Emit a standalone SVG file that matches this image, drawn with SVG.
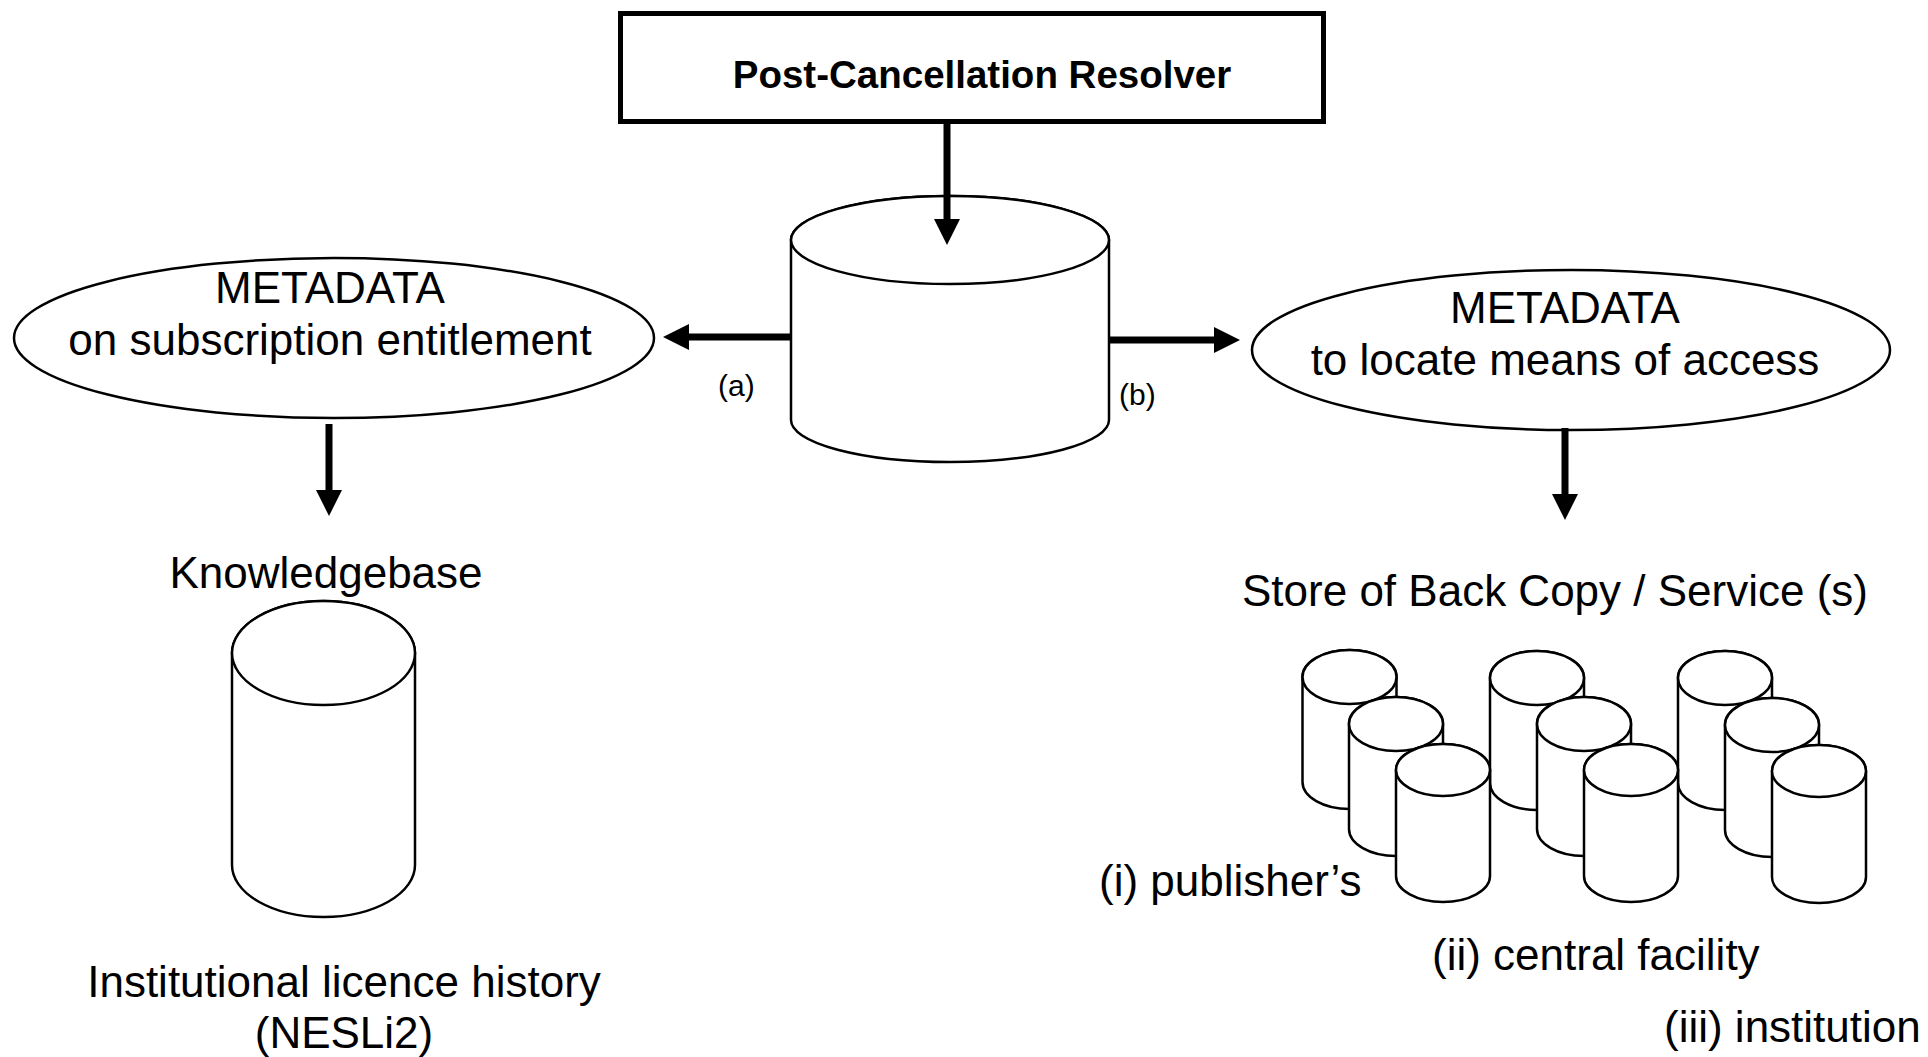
<svg xmlns="http://www.w3.org/2000/svg" width="1928" height="1057" viewBox="0 0 1928 1057">
  <defs>
    <style>
      .lbl { font-family: "Liberation Sans", Arial, sans-serif; font-size: 44px; fill: #000; }
      .ttl { font-family: "Liberation Sans", Arial, sans-serif; font-size: 38.5px; font-weight: bold; fill: #000; }
      .sm { font-family: "Liberation Sans", Arial, sans-serif; font-size: 30px; fill: #000; }
      .shape { fill: #fff; stroke: #000; stroke-width: 2.5; }
      .conn { stroke: #000; stroke-width: 7; fill: none; }
    </style>
    <marker id="ah" markerUnits="userSpaceOnUse" markerWidth="26" markerHeight="26" viewBox="0 0 26 26" refX="1" refY="13" orient="auto">
      <path d="M0,0 L26,13 L0,26 Z" fill="#000"/>
    </marker>
  </defs>

  <rect width="1928" height="1057" fill="#fff"/>

  <g id="resolver">
    <rect x="620.5" y="13.5" width="703" height="108" fill="#fff" stroke="#000" stroke-width="5"/>
    <text class="ttl" x="982" y="88" text-anchor="middle">Post-Cancellation Resolver</text>
  </g>

  <g id="central-db">
    <path class="shape" d="M791,240 L791,420 A159,42 0 0 0 1109,420 L1109,240 A159,44 0 0 0 791,240 Z"/>
    <ellipse class="shape" cx="950" cy="240" rx="159" ry="44"/>
  </g>

  <g id="metadata-entitlement">
    <ellipse class="shape" cx="334" cy="338" rx="320" ry="80" stroke-width="2"/>
    <text class="lbl" x="330" y="303" text-anchor="middle">METADATA</text>
    <text class="lbl" x="330" y="355" text-anchor="middle">on subscription entitlement</text>
  </g>

  <g id="metadata-access">
    <ellipse class="shape" cx="1571" cy="350" rx="319" ry="80" stroke-width="2"/>
    <text class="lbl" x="1565" y="323" text-anchor="middle">METADATA</text>
    <text class="lbl" x="1565" y="375" text-anchor="middle">to locate means of access</text>
  </g>

  <g id="knowledgebase">
    <text class="lbl" x="326" y="588" text-anchor="middle">Knowledgebase</text>
    <path class="shape" d="M232,653 L232,865 A91.5,52 0 0 0 415,865 L415,653 A91.5,52 0 0 0 232,653 Z"/>
    <ellipse class="shape" cx="323.5" cy="653" rx="91.5" ry="52"/>
    <text class="lbl" x="344" y="997" text-anchor="middle">Institutional licence history</text>
    <text class="lbl" x="344" y="1048" text-anchor="middle">(NESLi2)</text>
  </g>

  <g id="store">
    <text class="lbl" x="1242" y="606">Store of Back Copy / Service (s)</text>
    <g id="store-cylinders">
      <!-- back row -->
      <path class="shape" d="M1302.5,677 V782 A47,27 0 0 0 1396.5,782 V677 A47,27 0 0 0 1302.5,677 Z"/>
      <ellipse class="shape" cx="1349.5" cy="677" rx="47" ry="27"/>
      <path class="shape" d="M1490,678 V783 A47,27 0 0 0 1584,783 V678 A47,27 0 0 0 1490,678 Z"/>
      <ellipse class="shape" cx="1537" cy="678" rx="47" ry="27"/>
      <path class="shape" d="M1678,678 V783 A47,27 0 0 0 1772,783 V678 A47,27 0 0 0 1678,678 Z"/>
      <ellipse class="shape" cx="1725" cy="678" rx="47" ry="27"/>
      <!-- middle row -->
      <path class="shape" d="M1349,724 V829 A47,27 0 0 0 1443,829 V724 A47,27 0 0 0 1349,724 Z"/>
      <ellipse class="shape" cx="1396" cy="724" rx="47" ry="27"/>
      <path class="shape" d="M1537,724 V829 A47,27 0 0 0 1631,829 V724 A47,27 0 0 0 1537,724 Z"/>
      <ellipse class="shape" cx="1584" cy="724" rx="47" ry="27"/>
      <path class="shape" d="M1725,725 V830 A47,27 0 0 0 1819,830 V725 A47,27 0 0 0 1725,725 Z"/>
      <ellipse class="shape" cx="1772" cy="725" rx="47" ry="27"/>
      <!-- front row -->
      <path class="shape" d="M1396,770 V876 A47,26 0 0 0 1490,876 V770 A47,26 0 0 0 1396,770 Z"/>
      <ellipse class="shape" cx="1443" cy="770" rx="47" ry="26"/>
      <path class="shape" d="M1584,770 V876 A47,26 0 0 0 1678,876 V770 A47,26 0 0 0 1584,770 Z"/>
      <ellipse class="shape" cx="1631" cy="770" rx="47" ry="26"/>
      <path class="shape" d="M1772,771 V877 A47,26 0 0 0 1866,877 V771 A47,26 0 0 0 1772,771 Z"/>
      <ellipse class="shape" cx="1819" cy="771" rx="47" ry="26"/>
    </g>
    <text class="lbl" x="1099" y="896">(i) publisher’s</text>
    <text class="lbl" x="1432" y="970">(ii) central facility</text>
    <text class="lbl" x="1664" y="1042">(iii) institution</text>
  </g>

  <g id="connectors">
    <line class="conn" x1="947" y1="123" x2="947" y2="220" marker-end="url(#ah)"/>
    <line class="conn" x1="792" y1="337" x2="688" y2="337" marker-end="url(#ah)"/>
    <line class="conn" x1="1108" y1="340" x2="1215" y2="340" marker-end="url(#ah)"/>
    <line class="conn" x1="329" y1="424" x2="329" y2="491" marker-end="url(#ah)"/>
    <line class="conn" x1="1565" y1="428" x2="1565" y2="495" marker-end="url(#ah)"/>
    <text class="sm" x="718" y="396">(a)</text>
    <text class="sm" x="1119" y="405">(b)</text>
  </g>
</svg>
